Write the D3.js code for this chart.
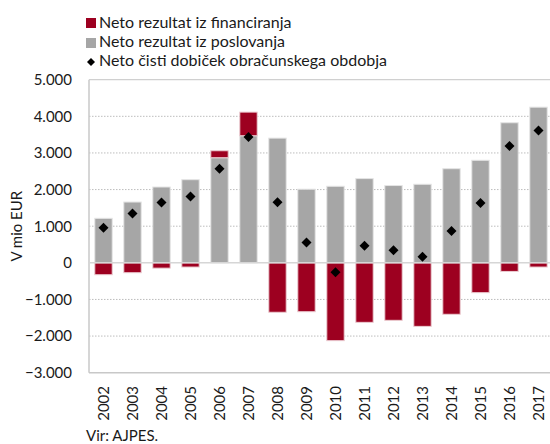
<!DOCTYPE html>
<html>
<head>
<meta charset="utf-8">
<script src="https://cdn.jsdelivr.net/npm/d3@7"></script>
<style>
  body { margin: 0; background: #fff; }
  text { font-family: "Lato", "Open Sans", sans-serif; fill: #1a1a1a; }
</style>
</head>
<body>
<div id="chart"></div>
<script>
// data (mio EUR)
const years = ["2002","2003","2004","2005","2006","2007","2008","2009","2010","2011","2012","2013","2014","2015","2016","2017"];
const poslovanje = [1215, 1660, 2070, 2270, 2870, 3470, 3405, 2010, 2090, 2300, 2110, 2145, 2570, 2800, 3825, 4250];
const financiranje = [-325, -270, -145, -115, 190, 645, -1350, -1335, -2125, -1625, -1570, -1735, -1405, -815, -235, -115];
const dobicek = [955, 1345, 1645, 1810, 2570, 3435, 1655, 555, -255, 465, 340, 165, 870, 1635, 3190, 3615];
const yTicks = [-3000, -2000, -1000, 0, 1000, 2000, 3000, 4000, 5000];
const legendItems = ["Neto rezultat iz financiranja", "Neto rezultat iz poslovanja", "Neto čisti dobiček obračunskega obdobja"];

const W = 550, H = 444;
const plot = {left: 89, right: 553, top: 79.7, bottom: 372.7};
const red = "#9d0020", grey = "#a6a6a6";

const svg = d3.select("#chart").append("svg")
  .attr("width", W).attr("height", H);

const x = d3.scaleBand()
  .domain(years)
  .range([plot.left, plot.right])
  .paddingInner(0.4)
  .paddingOuter(0.2);

const y = d3.scaleLinear()
  .domain([-3000, 5000])
  .range([plot.bottom, plot.top]);

const fmt = v => d3.format(",")(v).replace(/,/g, ".");

// gridlines (dotted)
svg.append("g")
  .selectAll("line")
  .data(yTicks.filter(t => t !== 0 && t !== 5000 && t !== -3000))
  .join("line")
    .attr("x1", plot.left).attr("x2", W)
    .attr("y1", d => y(d)).attr("y2", d => y(d))
    .attr("stroke", "#bdbdbd")
    .attr("stroke-width", 1)
    .attr("stroke-dasharray", "1.5,1.5");

// frame: top, left, bottom
svg.append("line")
  .attr("x1", plot.left).attr("x2", W)
  .attr("y1", y(5000)).attr("y2", y(5000))
  .attr("stroke", "#d0d0d0").attr("stroke-width", 1.2);
svg.append("line")
  .attr("x1", plot.left).attr("x2", W)
  .attr("y1", y(-3000)).attr("y2", y(-3000))
  .attr("stroke", "#c8c8c8").attr("stroke-width", 1.5);
svg.append("line")
  .attr("x1", plot.left).attr("x2", plot.left)
  .attr("y1", y(5000)).attr("y2", y(-3000))
  .attr("stroke", "#c8c8c8").attr("stroke-width", 1.5);

// y tick labels
svg.append("g")
  .selectAll("text")
  .data(yTicks)
  .join("text")
    .attr("x", 72)
    .attr("y", d => y(d))
    .attr("dy", "0.36em")
    .attr("text-anchor", "end")
    .style("font-size", "15px")
    .text(d => fmt(d));

// y axis title
svg.append("text")
  .attr("transform", `translate(22, ${(plot.top + plot.bottom) / 2}) rotate(-90)`)
  .attr("text-anchor", "middle")
  .style("font-size", "15px")
  .text("V mio EUR");

// grey bars (poslovanje)
svg.append("g")
  .selectAll("rect")
  .data(years)
  .join("rect")
    .attr("x", d => x(d))
    .attr("width", x.bandwidth())
    .attr("y", (d, i) => y(Math.max(0, poslovanje[i])))
    .attr("height", (d, i) => Math.abs(y(poslovanje[i]) - y(0)))
    .attr("fill", grey)
    .attr("stroke", "#e4e4e4")
    .attr("stroke-width", 1);

// red bars (financiranje) - stacked on top when positive
svg.append("g")
  .selectAll("rect")
  .data(years)
  .join("rect")
    .attr("x", d => x(d))
    .attr("width", x.bandwidth())
    .attr("y", (d, i) => financiranje[i] >= 0 ? y(poslovanje[i] + financiranje[i]) : y(0))
    .attr("height", (d, i) => Math.abs(y(financiranje[i]) - y(0)))
    .attr("fill", red)
    .attr("stroke", "#eccdd2")
    .attr("stroke-width", 1);

// zero line
svg.append("line")
  .attr("x1", plot.left).attr("x2", W)
  .attr("y1", y(0)).attr("y2", y(0))
  .attr("stroke", "#d6d6d6").attr("stroke-width", 1.5);

// diamonds (dobicek)
const diamond = (cx, cy, r) => `M${cx},${cy - r}L${cx + r},${cy}L${cx},${cy + r}L${cx - r},${cy}Z`;
svg.append("g")
  .selectAll("path")
  .data(years)
  .join("path")
    .attr("d", (d, i) => diamond(x(d) + x.bandwidth() / 2, y(dobicek[i]), 5))
    .attr("fill", "#000");

// x labels
svg.append("g")
  .selectAll("text")
  .data(years)
  .join("text")
    .attr("transform", d => `translate(${x(d) + x.bandwidth() / 2 + 5}, 386) rotate(-90)`)
    .attr("text-anchor", "end")
    .style("font-size", "15px")
    .text(d => d);

// legend
const legend = svg.append("g");
legend.append("rect").attr("x", 86).attr("y", 18).attr("width", 10).attr("height", 10).attr("fill", red);
legend.append("rect").attr("x", 86).attr("y", 38).attr("width", 10).attr("height", 10).attr("fill", grey);
legend.append("path").attr("d", diamond(91, 62, 4)).attr("fill", "#000");
legend.selectAll("text")
  .data(legendItems)
  .join("text")
    .attr("x", 99)
    .attr("y", (d, i) => 28 + i * 19)
    .style("font-size", "16px")
    .text(d => d);

// source
svg.append("text")
  .attr("x", 86).attr("y", 441)
  .style("font-size", "15px")
  .text("Vir: AJPES.");
</script>
</body>
</html>
